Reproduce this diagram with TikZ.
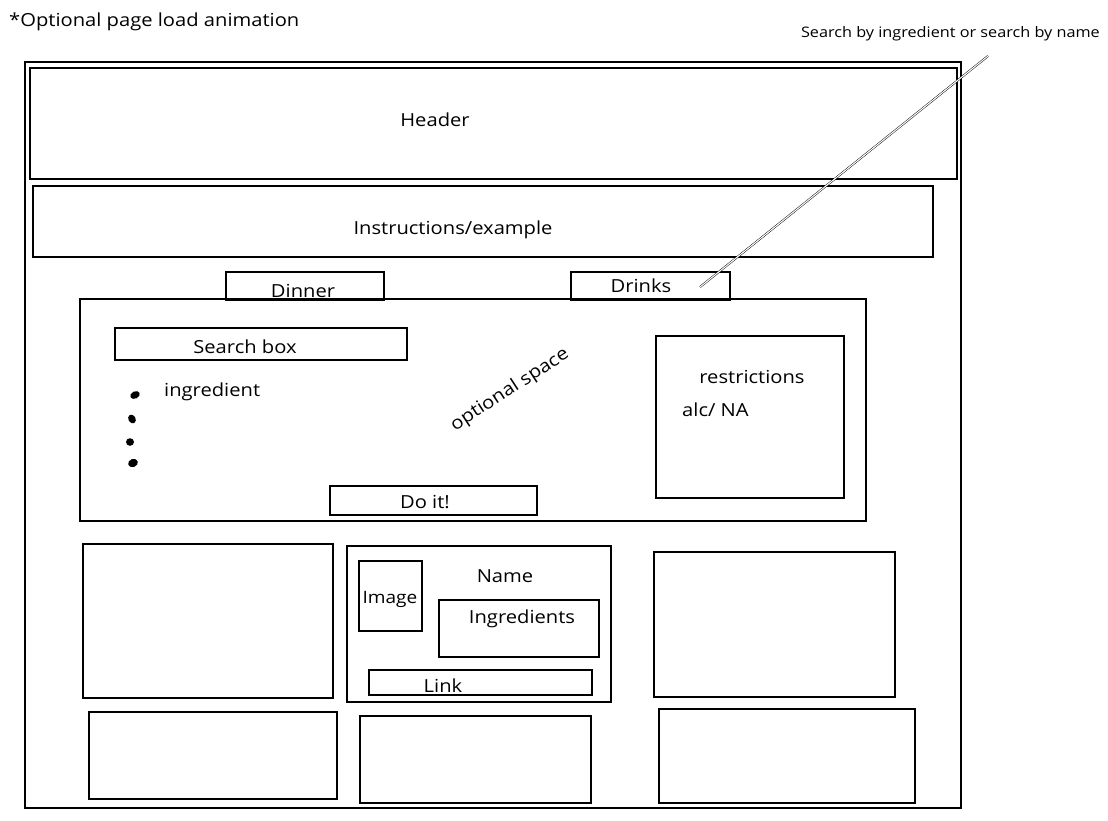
\documentclass[tikz,border=0pt]{standalone}
\usepackage{fontspec}
\setmainfont{Open Sans}[FakeStretch=1.12]
\newcommand{\wbox}[6][]{\node[box,#1,minimum width={#5-#3},minimum height={#6-#4}] (#2) at (#3,#4) {};}
\begin{document}
\begin{tikzpicture}[x=1pt,y=-1pt,
  box/.style={draw, line width=1.2pt, anchor=north west, inner sep=0pt, outer sep=0pt},
  lbl/.style={font=\fontsize{18}{20}\selectfont, inner sep=0pt},
  small/.style={font=\fontsize{14.5}{16}\selectfont, inner sep=0pt},
  bullet/.style={fill=black}]
\useasboundingbox[fill=white] (0,0) rectangle (1108,820);

% outer frame
\wbox{frame}{25}{62}{961}{808}
\wbox{header}{30}{68}{957}{179}
\wbox{instr}{33}{186}{933}{257}
\wbox{dinner}{226}{272}{384}{300}
\wbox{drinks}{571}{272}{730}{300}
\wbox{panel}{80}{299}{866}{521}
\wbox{search}{115}{328}{407}{360}
\wbox{doit}{330}{486}{537}{515}
\wbox{restr}{656}{336}{844}{498}
% result cards
\wbox{card1}{83}{544}{333}{698}
\wbox{card2}{347}{546}{611}{702}
\wbox{img}{359}{561}{422}{631}
\wbox{ingr}{439}{600}{599}{657}
\wbox{link}{369}{670}{592}{695}
\wbox{card3}{654}{552}{895}{697}
\wbox{card4}{89}{712}{337}{799}
\wbox{card5}{360}{716}{591}{803}
\wbox{card6}{659}{709}{915}{803}

% texts
\node[lbl, anchor=west] (anim) at (9,22) {*Optional page load animation};
\node[small, anchor=east] (note) at (1100,34) {Search by ingredient or search by name};
\node[lbl] (headert) at (435,120) {Header};
\node[lbl] (instrt) at (453,230) {Instructions/example};
\node[lbl] (dinnert) at (303,291) {Dinner};
\node[lbl] (drinkst) at (641,286) {Drinks};
\node[lbl] (searcht) at (245,347) {Search box};
\node[lbl, anchor=west] (ingt) at (164,392) {ingredient};
\node[lbl, rotate=33] (optt) at (510,390) {optional space};
\node[lbl] (doitt) at (425,502) {Do it!};
\node[lbl] (restrt) at (752,377) {restrictions};
\node[lbl, anchor=west] (alct) at (682,410) {alc/ NA};
\node[lbl, font=\fontsize{17}{19}\selectfont] (imgt) at (390,599) {Image};
\node[lbl] (namet) at (505,576) {Name};
\node[lbl] (ingrt) at (522,619) {Ingredients};
\node[lbl] (linkt) at (443,686) {Link};

% bullets
\fill[bullet, rotate around={25:(135,395)}] (135,395) ellipse (5 and 3.6);
\fill[bullet, rotate around={-60:(132,419)}] (132,419) ellipse (4.6 and 3.6);
\fill[bullet] (130,442) ellipse (4 and 3.8);
\fill[bullet, rotate around={20:(133,463)}] (133,463) ellipse (5 and 4);

% annotation line
\coordinate (lstart) at (700,287);
\coordinate (lend) at (988,56);
\draw[line width=0.45pt, double distance=1.1pt] (lstart) -- (lend);
\end{tikzpicture}
\end{document}
